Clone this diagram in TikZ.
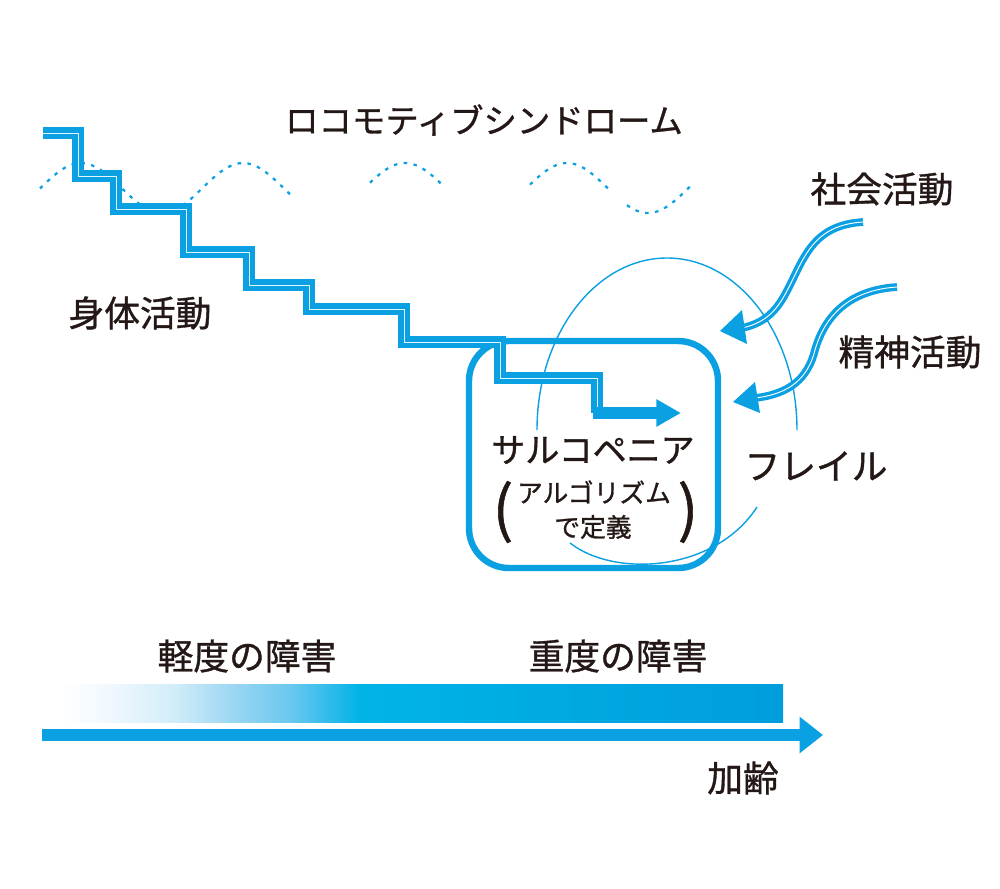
\documentclass[tikz,border=0pt]{standalone}
\usepackage{fontspec}
\setmainfont{Noto Sans CJK JP}[FakeBold=1]
\usepackage{xcolor}
\definecolor{locoblue}{HTML}{0AA0E2}
\definecolor{barblue}{HTML}{009DDC}
\definecolor{barcyan}{HTML}{00B4E8}
\definecolor{ink}{HTML}{231815}
\definecolor{fadeA}{HTML}{F4FAFE}
\definecolor{fadeB}{HTML}{D2EDF9}
\definecolor{fadeC}{HTML}{95D4F2}
\definecolor{fadeD}{HTML}{6AC8EF}
\definecolor{fadeE}{HTML}{2BBAEA}
\usepackage{tikz}
\usetikzlibrary{positioning,arrows.meta,calc}

% white on the left, full blue on the right
\pgfdeclarehorizontalshading{agebar}{100bp}{color(0bp)=(white); color(26bp)=(white);
  color(28.7bp)=(fadeA); color(33.7bp)=(fadeB); color(38.2bp)=(fadeC);
  color(41.6bp)=(fadeD); color(44.5bp)=(fadeE); color(46.3bp)=(barcyan);
  color(75bp)=(barblue); color(100bp)=(barblue)}

\begin{document}
\begin{tikzpicture}[x=0.03cm, y=-0.03cm,
    txt/.style={inner sep=0pt, text=ink, font=\fontsize{30.5}{32}\selectfont},
    small/.style={txt, font=\fontsize{22}{24}\selectfont},
    stairs/.style={draw=locoblue, line width=9.5pt, line join=miter,
                   postaction={draw=locoblue!12, line width=0.6pt}},
    flow/.style={draw=locoblue, line width=6.6pt,
                 postaction={draw=white, line width=0.8pt}},
    loopline/.style={draw=locoblue, line width=1.2pt},
    wave/.style={draw=locoblue, line width=1.9pt, dash pattern=on 3pt off 5.5pt}]
  \useasboundingbox (0,0) rectangle (1000,889);

  % dotted wave behind the stairs
  \foreach \a/\b in {40/290, 370/442, 530/608, 627/690}
    \draw[wave] plot[domain=\a:\b, samples=40, smooth]
      (\x, {188-25*cos((\x-243)*2.2222)});

  % frailty loop
  \draw[loopline] (537,430) arc[start angle=180, end angle=360,
                               x radius=130, y radius=172];
  \draw[loopline] (570,543) .. controls (615,578) and (715,572) .. (757,507);

  % sarcopenia box
  \node[draw=locoblue, line width=5.5pt, rounded corners=34pt,
        minimum width=7.47cm, minimum height=6.81cm] (sarcobox) at (593.5,454.5) {};

  % stairs going down
  \draw[stairs] (43,133) -- (78,133) -- (78,176) -- (116,176) -- (116,209)
    -- (186,209) -- (186,252) -- (249,252) -- (249,285) -- (309,285)
    -- (309,309) -- (404,309) -- (404,342) -- (500,342) -- (500,378)
    -- (597,378) -- (597,413);
  \draw[locoblue, line width=9.5pt, -{Triangle[length=21pt, width=22pt]}]
    (592.5,413) -- (681,413);

  % social and mental activity
  \draw[flow] (863,222) .. controls (815,225) and (805,255) .. (790,285)
    .. controls (780,305) and (770,322) .. (742,328);
  \fill[locoblue] (720,331) -- (742,310) -- (747,344) -- cycle;
  \draw[flow] (897,287) .. controls (850,290) and (825,315) .. (815,350)
    .. controls (808,378) and (790,394) .. (755,398);
  \fill[locoblue] (733,402) -- (755,382) -- (760,413) -- cycle;

  % severity and ageing
  \shade[shading=agebar] (45,684) rectangle (783,722);
  \draw[locoblue, line width=10pt, -{Triangle[length=20pt, width=30pt]}]
    (42,735) -- (823,735);

  % labels
  \node[txt, font=\fontsize{28.5}{30}\selectfont] (title) at (484,120) {ロコモティブシンドローム};
  \node[txt] (body) at (140,313) {身体活動};
  \node[txt] (social) at (882,189) {社会活動};
  \node[txt] (mental) at (910,352) {精神活動};
  \node[txt] (frail) at (816,466) {フレイル};
  \node[txt, font=\fontsize{29}{30}\selectfont] (sarco) at (593,450) {サルコペニア};
  \node[small] (algo) at (594,492) {アルゴリズム};
  \node[small] (defn) at (593,527) {で定義};
  \node[txt, font=\fontsize{52}{52}\selectfont] (lparen) at (503,512) {(};
  \node[txt, font=\fontsize{52}{52}\selectfont] (rparen) at (688,512) {)};
  \node[txt] (mild) at (247,656) {軽度の障害};
  \node[txt] (severe) at (618,656) {重度の障害};
  \node[txt] (aging) at (743,778) {加齢};
\end{tikzpicture}
\end{document}
